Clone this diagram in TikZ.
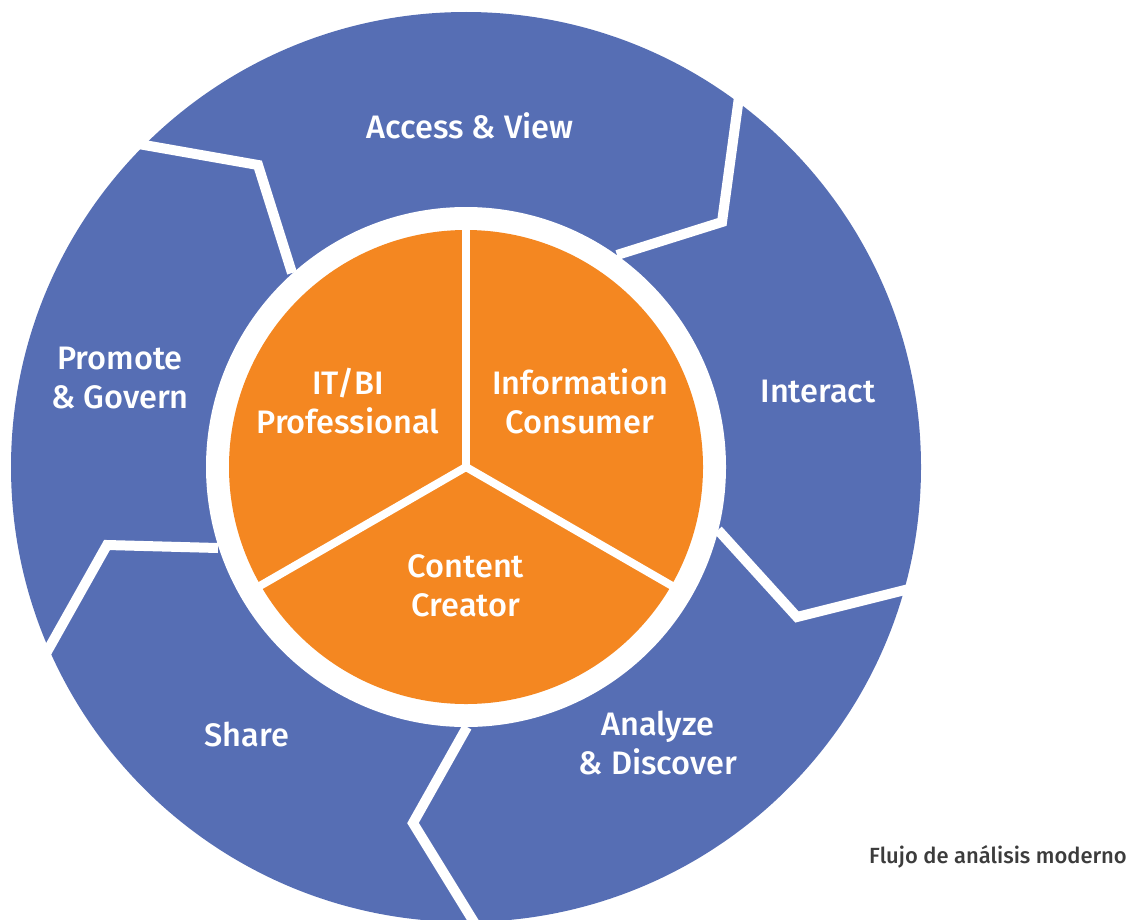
\documentclass[tikz,border=0pt]{standalone}
\usepackage{fontspec}
\setmainfont{Fira Sans}[UprightFont=* Medium]
\definecolor{ringblue}{HTML}{566EB4}
\definecolor{coreorange}{HTML}{F48721}
\definecolor{captiongray}{HTML}{3C3C3C}

\begin{document}
\begin{tikzpicture}[x=0.02cm,y=-0.02cm,
    tag/.style={text=white,font=\fontsize{18.5}{22}\selectfont,align=center},
    gap/.style={white,line width=0.2cm,line join=miter},
    spoke/.style={white,line width=0.16cm}]
    \useasboundingbox (0,0) rectangle (1131,919);
    \clip (0,0) rectangle (1131,919);
    \coordinate (hub) at (466,467);

    % outer ring
    \fill[ringblue] (hub) circle[radius=455];
    \draw[gap] (742,75) -- (722,222) -- (617,255);
    \draw[gap] (945,580) -- (797,617) -- (718,530);
    \draw[gap] (485,940) -- (413,823) -- (467,727);
    \draw[gap] (30,682) -- (107,545) -- (218,548);
    \draw[gap] (110,139) -- (258,165) -- (292,273);

    % core
    \fill[white] (hub) circle[radius=260];
    \fill[coreorange] (hub) circle[radius=237];
    \draw[spoke] (hub) -- (466,225);
    \draw[spoke] (hub) -- (258,587);
    \draw[spoke] (hub) -- (674,587);

    \node[tag] (access) at (470,126) {Access \& View};
    \node[tag] (interact) at (818,392) {Interact};
    \node[tag] (analyze) at (658,743) {Analyze\\\& Discover};
    \node[tag] (share) at (247,734) {Share};
    \node[tag] (promote) at (120,378) {Promote\\\& Govern};

    \node[tag] (itbi) at (348,401) {IT/BI\\Professional};
    \node[tag] (consumer) at (580,401) {Information\\Consumer};
    \node[tag] (creator) at (466,586) {Content\\Creator};

    \node[text=captiongray,font=\fontsize{12.5}{14}\selectfont] (caption) at (998,857) {Flujo de análisis moderno};
\end{tikzpicture}
\end{document}
